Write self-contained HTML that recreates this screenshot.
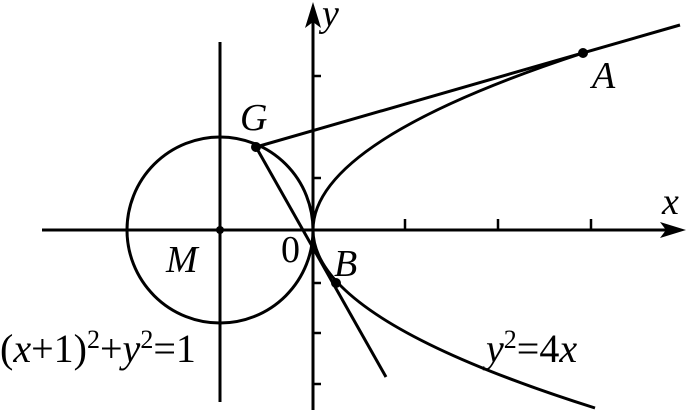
<!DOCTYPE html>
<html><head><style>body{margin:0;background:#fff}svg{display:block}
.t{font-family:"Liberation Serif","Times New Roman",Times,"DejaVu Serif",serif;fill:#000}
.i{font-style:italic}</style></head>
<body>
<svg width="687" height="415" viewBox="0 0 687 415" xmlns="http://www.w3.org/2000/svg">
<g stroke="#000" stroke-width="3" fill="none">
<line x1="42" y1="230" x2="672" y2="230"/>
<line x1="313" y1="410" x2="313" y2="18"/>
<line x1="220" y1="42" x2="220" y2="402"/>
<circle cx="220" cy="230" r="93"/>
<path d="M313 230 Q313 141.5 583 53"/>
<path d="M313 230 Q313 319 595 408"/>
<line x1="256" y1="147" x2="680" y2="25"/>
<line x1="256" y1="147" x2="386" y2="377"/>
<g stroke-width="2.5">
<line x1="405" y1="219" x2="405" y2="230"/><line x1="498" y1="219" x2="498" y2="230"/><line x1="591" y1="219" x2="591" y2="230"/>
<line x1="313" y1="76" x2="321" y2="76"/><line x1="313" y1="178" x2="321" y2="178"/><line x1="313" y1="283" x2="321" y2="283"/><line x1="313" y1="333" x2="321" y2="333"/><line x1="313" y1="384" x2="321" y2="384"/>
</g>
</g>
<polygon points="686,230 660,222 666,230 660,238" fill="#000"/>
<polygon points="313,2 305,28 313,22 321,28" fill="#000"/>
<g fill="#000"><circle cx="256" cy="147" r="5"/><circle cx="583" cy="53" r="5"/><circle cx="336" cy="283" r="5"/><circle cx="220" cy="230" r="4"/></g>
<g font-size="38">
<text class="t i" x="322" y="26">y</text>
<text class="t i" x="662" y="214">x</text>
<text class="t i" x="592" y="88">A</text>
<text class="t i" x="240" y="130">G</text>
<text class="t i" x="334" y="276">B</text>
<text class="t i" x="166" y="272">M</text>
<text class="t" x="281" y="262">0</text>
</g>
<text class="t" x="0" y="362" font-size="40"><tspan>(</tspan><tspan class="i">x</tspan><tspan>+1)</tspan><tspan font-size="26" dy="-14">2</tspan><tspan dy="14">+</tspan><tspan class="i">y</tspan><tspan font-size="26" dy="-14">2</tspan><tspan dy="14">=1</tspan></text>
<text class="t" x="486" y="362" font-size="40"><tspan class="i">y</tspan><tspan font-size="26" dy="-14">2</tspan><tspan dy="14">=4</tspan><tspan class="i">x</tspan></text>
</svg>
</body></html>
